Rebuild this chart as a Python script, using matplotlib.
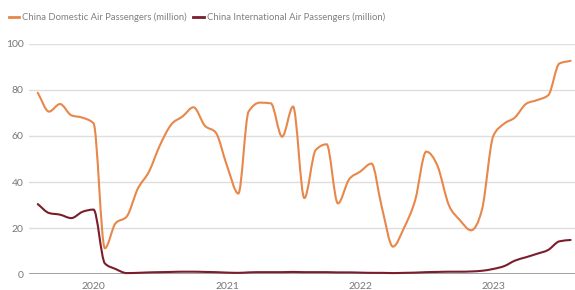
import numpy as np
import pandas as pd
import matplotlib
matplotlib.use("Agg")
import matplotlib.pyplot as plt
import matplotlib.dates as mdates
from matplotlib.path import Path
from matplotlib.patches import PathPatch

# monthly data, Aug 2019 - Aug 2023
months = pd.date_range("2019-08-01", "2023-08-01", freq="MS")
domestic = [78.8, 70.6, 73.9, 69.0, 68.0, 65.5, 11.2, 22.0, 25.0, 37.0, 44.5, 56.0,
            65.0, 68.5, 72.5, 64.5, 61.5, 47.0, 35.0, 70.6, 74.5, 74.2, 59.7, 72.8,
            33.0, 53.9, 56.4, 30.7, 41.0, 44.5, 48.0, 29.3, 11.9, 20.0, 32.2, 53.2,
            47.0, 30.0, 23.5, 19.0, 28.0, 60.0, 65.5, 68.0, 74.0, 75.6, 77.8, 91.5, 92.7]
international = [30.4, 26.5, 25.8, 24.3, 27.0, 28.0, 4.6, 2.2, 0.4, 0.5, 0.7, 0.8,
                 0.9, 1.0, 1.0, 0.9, 0.8, 0.6, 0.5, 0.7, 0.8, 0.8, 0.8, 0.9,
                 0.8, 0.8, 0.8, 0.7, 0.7, 0.6, 0.5, 0.5, 0.4, 0.5, 0.6, 0.8,
                 0.9, 1.0, 1.0, 1.1, 1.4, 2.2, 3.5, 5.8, 7.3, 8.8, 10.5, 14.2, 14.8]
series_names = ["China Domestic Air Passengers (million)",
                "China International Air Passengers (million)"]
colors = ["#e8874a", "#7b1e2c"]


def monotone_path(x, y):
    # cubic bezier through the points, monotone in x (like d3 curveMonotoneX)
    x = np.asarray(x, float)
    y = np.asarray(y, float)
    h = np.diff(x)
    s = np.diff(y) / h
    t = np.zeros_like(y)
    for i in range(1, len(y) - 1):
        if s[i - 1] * s[i] > 0:
            p = (s[i - 1] * h[i] + s[i] * h[i - 1]) / (h[i - 1] + h[i])
            t[i] = (np.sign(s[i - 1]) + np.sign(s[i])) * min(abs(s[i - 1]), abs(s[i]), 0.5 * abs(p))
    t[0] = s[0]
    t[-1] = s[-1]
    verts = [(x[0], y[0])]
    codes = [Path.MOVETO]
    for i in range(len(x) - 1):
        d = h[i] / 3
        verts += [(x[i] + d, y[i] + d * t[i]), (x[i + 1] - d, y[i + 1] - d * t[i + 1]), (x[i + 1], y[i + 1])]
        codes += [Path.CURVE4] * 3
    return Path(verts, codes)


plt.rcParams["font.family"] = ["Lato", "DejaVu Sans"]

fig = plt.figure(figsize=(5.75, 2.9), dpi=100)
ax = fig.add_axes([29 / 575, 16 / 290, 546 / 575, 230 / 290])

xnum = mdates.date2num(months)
for vals, col in zip([domestic, international], colors):
    patch = PathPatch(monotone_path(xnum, vals), facecolor="none", edgecolor=col,
                      lw=1.5, clip_on=False, zorder=3, capstyle="round")
    ax.add_patch(patch)

ax.set_xlim(mdates.date2num(pd.Timestamp("2019-07-08")), mdates.date2num(pd.Timestamp("2023-08-13")))
ax.set_ylim(0, 100)
ax.xaxis.set_major_locator(mdates.YearLocator())
ax.xaxis.set_major_formatter(mdates.DateFormatter("%Y"))
ax.set_yticks(range(0, 101, 20))

ax.grid(axis="y", color="#dedede", lw=1)
ax.set_axisbelow(True)
for sp in ax.spines.values():
    sp.set_visible(False)
ax.axhline(0, color="#9a9a9a", lw=1.3, zorder=2)
ax.tick_params(length=0, labelsize=7.5, labelcolor="#777777")
ax.tick_params(axis="y", pad=4)
ax.tick_params(axis="x", pad=6)
for lab in ax.get_yticklabels():
    lab.set_horizontalalignment("right")

# legend in the header
handles = [plt.Line2D([], [], color=c, lw=2) for c in colors]
fig.legend(handles, series_names, loc="upper left", bbox_to_anchor=(0.0, 0.985),
           ncol=2, frameon=False, fontsize=6.8, labelcolor="#808080",
           handlelength=1.1, handletextpad=0.35, columnspacing=0.7)

fig.savefig("out.png", dpi=100)
